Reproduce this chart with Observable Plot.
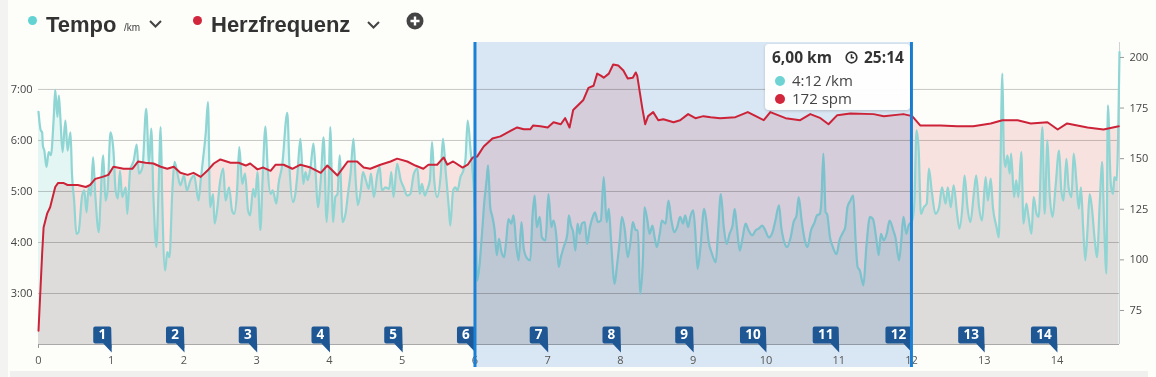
<!DOCTYPE html>
<html>
<head>
<meta charset="utf-8">
<script src="https://cdn.jsdelivr.net/npm/d3@7"></script>
<script src="https://cdn.jsdelivr.net/npm/@observablehq/plot@0.6"></script>
<style>
  html, body { margin:0; padding:0; background:#fdfdfa; }
  #wrap { position:relative; width:1156px; height:377px; overflow:hidden; background:#fdfdfa; }
  .abs { position:absolute; }
  .hdr { font-family:"Liberation Sans", Arial, sans-serif; font-weight:bold; font-size:22px; color:#333; line-height:1; }
  .dot { position:absolute; width:9px; height:9px; border-radius:50%; }
  #tip { position:absolute; left:765px; top:44px; width:145px; height:66px; background:rgba(255,255,255,0.96);
         border-radius:4px; box-shadow:0 1px 3px rgba(0,0,0,0.18); font-family:"Open Sans", sans-serif; color:#333; }
  #tip .b { position:absolute; font-weight:bold; font-size:15.5px; line-height:1; }
  #tip .r { position:absolute; font-size:15px; line-height:1; color:#444; }
  #tip .d { position:absolute; width:10px; height:10px; border-radius:50%; }
</style>
</head>
<body>
<div id="wrap">
  <div class="dot" style="left:28px;top:15.5px;background:#63d2d2;"></div>
  <div class="abs hdr" style="left:46px;top:14px;">Tempo</div>
  <div class="abs" style="left:124px;top:22px;font-family:'Liberation Sans',Arial,sans-serif;font-size:10px;color:#444;">/km</div>
  <svg class="abs" style="left:148px;top:18px;" width="16" height="12"><polyline points="2,3 7.5,8.5 13,3" fill="none" stroke="#444" stroke-width="2"/></svg>
  <div class="dot" style="left:193px;top:15.5px;background:#d1263b;"></div>
  <div class="abs hdr" style="left:211px;top:14px;">Herzfrequenz</div>
  <svg class="abs" style="left:366px;top:19px;" width="16" height="12"><polyline points="2,3 7.5,8.5 13,3" fill="none" stroke="#444" stroke-width="2"/></svg>
  <svg class="abs" style="left:406px;top:12px;" width="18" height="18"><circle cx="9" cy="9" r="8.5" fill="#444"/><path d="M9,4.5V13.5M4.5,9H13.5" stroke="#fff" stroke-width="2.4"/></svg>

  <div id="chart" class="abs" style="left:0;top:40px;"></div>

  <div id="tip">
    <div class="b" style="left:7px;top:6px;">6,00 km</div>
    <svg class="abs" style="left:80px;top:7px;" width="13" height="13"><circle cx="6.5" cy="6.5" r="5.3" fill="none" stroke="#333" stroke-width="1.7"/><path d="M6.5,3.2V6.8H9" fill="none" stroke="#333" stroke-width="1.6"/></svg>
    <div class="b" style="left:99px;top:6px;">25:14</div>
    <div class="d" style="left:10px;top:32px;background:#6fd3d3;"></div>
    <div class="r" style="left:27px;top:29px;">4:12 /km</div>
    <div class="d" style="left:10px;top:50px;background:#d1263b;"></div>
    <div class="r" style="left:27px;top:47px;">172 spm</div>
  </div>

  <div class="abs" style="left:0;top:0;width:8px;height:377px;background:#f3f3f1;"></div>
  <div class="abs" style="left:10px;top:371px;width:1138px;height:6px;background:#f0f0ee;"></div>
</div>
<script>
// ---- data (km, pace in decimal minutes per km) ----
const paceSeries = [[0,6.56],[0.03,6.20],[0.05,6.16],[0.06,5.90],[0.08,5.80],[0.11,5.48],[0.14,5.77],[0.17,5.71],[0.21,6.46],[0.23,6.99],[0.26,6.46],[0.28,6.88],[0.30,6.46],[0.33,5.77],[0.37,6.39],[0.40,5.80],[0.44,6.16],[0.46,5.35],[0.49,4.82],[0.52,4.17],[0.55,4.20],[0.60,4.92],[0.63,5.02],[0.66,4.59],[0.69,5.08],[0.72,4.92],[0.75,5.67],[0.78,4.95],[0.83,4.20],[0.85,4.76],[0.89,5.71],[0.92,4.82],[0.95,5.02],[0.99,6.16],[1.03,5.80],[1.06,5.02],[1.09,4.86],[1.12,5.41],[1.15,4.89],[1.20,5.08],[1.22,4.56],[1.26,5.41],[1.31,5.61],[1.35,5.92],[1.38,5.35],[1.43,5.48],[1.48,6.62],[1.52,5.54],[1.55,6.23],[1.58,4.89],[1.62,3.91],[1.65,5.02],[1.68,6.26],[1.70,4.89],[1.74,3.45],[1.77,3.81],[1.80,3.71],[1.84,5.02],[1.87,5.58],[1.91,5.35],[1.95,5.12],[2.00,5.31],[2.04,5.02],[2.09,5.22],[2.14,5.31],[2.20,4.82],[2.23,5.22],[2.26,5.61],[2.30,6.16],[2.33,6.75],[2.36,4.69],[2.40,4.95],[2.42,4.37],[2.46,4.69],[2.49,5.12],[2.54,5.45],[2.57,4.82],[2.62,5.08],[2.66,4.63],[2.69,4.56],[2.73,5.02],[2.76,5.87],[2.80,5.15],[2.84,5.35],[2.88,4.63],[2.91,4.53],[2.95,5.05],[2.98,4.89],[3.01,5.38],[3.05,4.24],[3.08,5.22],[3.12,6.27],[3.15,5.45],[3.19,4.95],[3.22,5.02],[3.27,4.76],[3.30,5.15],[3.35,5.51],[3.42,6.54],[3.45,5.48],[3.50,4.79],[3.53,4.95],[3.56,5.35],[3.60,6.03],[3.64,5.15],[3.67,5.38],[3.70,5.22],[3.74,5.48],[3.78,5.94],[3.81,5.35],[3.84,4.69],[3.88,5.22],[3.92,6.06],[3.96,4.40],[3.99,5.15],[4.01,6.26],[4.05,4.40],[4.08,4.89],[4.11,4.95],[4.14,5.71],[4.18,4.40],[4.22,4.56],[4.26,5.02],[4.29,5.35],[4.33,6.03],[4.36,5.22],[4.39,4.73],[4.43,5.02],[4.46,5.38],[4.50,5.22],[4.54,5.05],[4.57,5.35],[4.61,4.89],[4.66,5.35],[4.69,5.48],[4.72,5.02],[4.77,5.08],[4.82,5.05],[4.85,5.38],[4.88,4.89],[4.93,5.54],[4.98,5.22],[5.02,5.08],[5.07,4.92],[5.11,4.95],[5.16,5.35],[5.21,5.45],[5.24,4.95],[5.27,5.15],[5.31,4.92],[5.34,5.02],[5.38,5.22],[5.41,5.97],[5.44,5.22],[5.48,4.89],[5.53,5.35],[5.56,6.03],[5.60,5.35],[5.64,4.69],[5.66,4.33],[5.70,5.02],[5.73,5.08],[5.76,5.02],[5.80,5.28],[5.84,5.41],[5.87,5.64],[5.90,6.39],[5.94,5.80],[5.98,5.15],[6.01,4.30],[6.03,3.25],[6.06,3.52],[6.10,4.24],[6.13,4.82],[6.16,5.22],[6.18,5.51],[6.21,4.69],[6.24,4.50],[6.27,4.24],[6.30,3.75],[6.33,4.07],[6.36,3.84],[6.40,3.71],[6.43,4.04],[6.46,4.46],[6.50,4.37],[6.53,4.53],[6.57,3.91],[6.60,3.65],[6.64,4.40],[6.67,3.88],[6.72,3.68],[6.76,3.65],[6.79,4.50],[6.82,4.92],[6.85,4.30],[6.89,4.50],[6.92,4.10],[6.97,4.04],[7.01,4.95],[7.05,4.30],[7.08,4.43],[7.12,4.10],[7.15,3.52],[7.18,3.71],[7.22,3.91],[7.27,4.17],[7.29,4.53],[7.32,4.33],[7.35,4.20],[7.38,3.84],[7.41,4.37],[7.44,4.17],[7.47,4.37],[7.51,4.40],[7.54,3.97],[7.58,4.30],[7.62,4.50],[7.65,4.59],[7.69,4.40],[7.73,4.43],[7.77,5.28],[7.81,4.40],[7.84,4.66],[7.87,4.04],[7.92,3.19],[7.95,3.52],[7.99,4.04],[8.02,4.50],[8.06,4.24],[8.10,3.71],[8.14,4.04],[8.17,4.40],[8.21,4.24],[8.24,4.24],[8.27,2.99],[8.31,3.71],[8.33,4.69],[8.37,4.43],[8.40,4.17],[8.44,4.33],[8.47,4.10],[8.50,3.91],[8.54,4.17],[8.57,4.43],[8.62,4.37],[8.66,4.82],[8.70,4.43],[8.74,4.20],[8.78,4.30],[8.82,4.50],[8.86,4.37],[8.89,4.53],[8.93,4.30],[8.96,4.50],[9.00,4.63],[9.03,4.17],[9.06,3.48],[9.10,3.91],[9.15,4.66],[9.18,4.43],[9.21,4.04],[9.26,3.77],[9.31,3.61],[9.34,4.17],[9.38,4.95],[9.42,4.30],[9.46,3.97],[9.50,4.17],[9.54,4.33],[9.57,4.66],[9.60,4.30],[9.64,3.84],[9.68,4.10],[9.72,4.37],[9.76,4.24],[9.81,4.14],[9.86,4.24],[9.90,4.27],[9.95,4.33],[9.99,4.24],[10.04,4.10],[10.09,4.20],[10.13,4.43],[10.18,4.73],[10.21,4.30],[10.24,4.07],[10.29,3.91],[10.34,4.10],[10.38,4.40],[10.42,4.53],[10.45,4.89],[10.49,4.43],[10.53,4.07],[10.57,3.91],[10.62,4.24],[10.67,4.40],[10.70,4.53],[10.74,4.56],[10.76,4.76],[10.79,5.74],[10.82,4.59],[10.84,4.56],[10.88,4.10],[10.92,3.91],[10.97,3.77],[11.01,4.04],[11.06,4.20],[11.09,4.30],[11.12,4.69],[11.16,4.82],[11.20,4.92],[11.23,4.10],[11.26,3.52],[11.29,3.45],[11.34,3.16],[11.38,3.91],[11.43,4.50],[11.47,4.46],[11.52,4.04],[11.55,3.75],[11.58,4.17],[11.62,4.04],[11.66,4.17],[11.70,4.43],[11.75,4.24],[11.78,4.10],[11.83,3.65],[11.86,4.04],[11.89,4.50],[11.93,4.17],[11.96,4.33],[12.01,4.43],[12.04,4.76],[12.07,6.20],[12.10,5.80],[12.13,4.56],[12.17,4.69],[12.21,4.76],[12.24,5.45],[12.28,4.99],[12.33,4.56],[12.38,4.69],[12.42,5.08],[12.47,4.76],[12.50,5.08],[12.54,4.69],[12.58,5.12],[12.63,4.53],[12.66,4.27],[12.70,4.69],[12.73,5.31],[12.77,4.69],[12.81,4.40],[12.86,4.99],[12.89,5.31],[12.93,4.69],[12.97,4.43],[13.02,5.28],[13.05,4.82],[13.09,5.25],[13.12,4.69],[13.17,4.30],[13.20,4.10],[13.22,5.22],[13.25,7.31],[13.27,5.74],[13.29,5.48],[13.32,5.71],[13.35,5.35],[13.37,5.74],[13.41,4.89],[13.44,5.22],[13.47,4.89],[13.51,5.77],[13.54,4.37],[13.58,4.76],[13.61,4.50],[13.65,4.17],[13.68,4.89],[13.72,4.56],[13.75,4.50],[13.80,6.26],[13.83,4.56],[13.87,6.00],[13.90,4.95],[13.94,4.50],[13.98,5.08],[14.03,5.80],[14.06,5.02],[14.09,4.82],[14.13,5.64],[14.16,5.08],[14.20,4.89],[14.23,5.74],[14.27,5.15],[14.30,4.66],[14.33,5.08],[14.36,4.30],[14.39,3.65],[14.42,4.24],[14.45,4.95],[14.48,4.69],[14.52,4.04],[14.55,3.71],[14.59,4.82],[14.62,5.58],[14.65,4.30],[14.68,3.39],[14.70,6.69],[14.74,5.15],[14.77,4.95],[14.79,5.28],[14.82,5.22],[14.86,7.73]];

// (km, heart rate)
const hrSeries = [[0,65],[0.05,103],[0.07,116],[0.12,123],[0.16,126],[0.23,136],[0.27,138],[0.34,138],[0.40,137],[0.54,137],[0.65,136],[0.71,137],[0.78,140],[0.88,141],[0.96,142],[1.03,146],[1.17,145],[1.29,145],[1.37,148.6],[1.47,148],[1.58,147.6],[1.68,146],[1.77,145],[1.86,146],[1.95,143],[2.05,142],[2.13,143],[2.23,141],[2.32,144],[2.41,147.6],[2.50,149.6],[2.64,148],[2.75,148],[2.85,146.6],[2.91,147.6],[3.01,144.7],[3.09,145.6],[3.19,144],[3.26,147],[3.37,147],[3.49,145],[3.60,147],[3.74,145.6],[3.88,143],[3.97,146.6],[4.11,141.7],[4.25,148.6],[4.38,148.6],[4.47,145.6],[4.56,145],[4.70,147],[4.84,148.6],[4.93,150],[5.07,148.6],[5.18,146.6],[5.29,145],[5.36,147],[5.48,147],[5.57,150.6],[5.62,147],[5.70,148.6],[5.83,145.6],[5.90,147],[5.97,150.6],[6.03,151],[6.12,156],[6.24,160],[6.35,161],[6.45,163],[6.58,165.4],[6.67,164.5],[6.76,164.5],[6.80,166.4],[6.90,166],[7.00,165.4],[7.08,168],[7.18,167],[7.24,170],[7.30,165.4],[7.35,174],[7.49,179],[7.56,185],[7.63,186],[7.68,192],[7.73,191],[7.77,190],[7.84,192],[7.90,196.5],[7.97,196],[8.04,193.6],[8.10,189.6],[8.17,190],[8.21,192.6],[8.23,191],[8.30,175],[8.34,167],[8.38,171],[8.45,173],[8.52,169],[8.59,169.5],[8.73,168],[8.82,169],[8.93,172],[9.03,170],[9.14,171],[9.24,170.5],[9.37,170],[9.58,170.5],[9.75,173],[9.86,171],[9.97,169],[10.06,173],[10.27,170],[10.47,169],[10.61,172],[10.75,170],[10.86,167],[10.98,171.5],[11.16,172.3],[11.48,172],[11.62,171],[11.89,172],[12.01,171],[12.12,166.4],[12.26,166.4],[12.40,166.4],[12.63,166],[12.85,166],[13.09,167.4],[13.25,169],[13.46,169],[13.64,167.4],[13.87,168],[14.01,164.4],[14.14,167.4],[14.42,165.4],[14.64,164.4],[14.85,166]];

const kmTicks = [0,1,2,3,4,5,6,7,8,9,10,11,12,13,14];
const paceTicks = [3,4,5,6,7];
const hrTicks = [75,100,125,150,175,200];
const lapKm = [1,2,3,4,5,6,7,8,9,10,11,12,13,14];
const selection = [{start:6, end:12}];

// heart rate shares the pace axis space: 75 bpm <-> 2:40, 200 bpm <-> 7:37.6
const hrToPace = d3.scaleLinear().domain([75,200]).range([2.667,7.627]);

const paceData = paceSeries.map(([km,pace]) => ({km, pace}));
const hrData = hrSeries.map(([km,hr]) => ({km, hr, p: hrToPace(hr)}));
const lapsOne = lapKm.filter(k => k < 10);
const lapsTwo = lapKm.filter(k => k >= 10);

const fmtPace = m => `${Math.floor(m)}:${String(Math.round((m % 1) * 60)).padStart(2, "0")}`;

const yMin = 2, yMax = 7.92, yBand = 1.549, xMax = 14.86;

function bubble(w) {
  return {
    draw(ctx) {
      const r = 2, top = -18, bot = -1, L = -w, R = 0;
      ctx.moveTo(L + r, top);
      ctx.lineTo(R - r, top);
      ctx.arcTo(R, top, R, top + r, r);
      ctx.lineTo(R + 0.5, 8);
      ctx.lineTo(R - 8, bot);
      ctx.lineTo(L + r, bot);
      ctx.arcTo(L, bot, L, bot - r, r);
      ctx.lineTo(L, top + r);
      ctx.arcTo(L, top, L + r, top, r);
      ctx.closePath();
    }
  };
}

const chart = Plot.plot({
  width: 1156,
  height: 330,
  marginLeft: 38,
  marginRight: 37,
  marginTop: 2,
  marginBottom: 26,
  x: {domain: [0, xMax]},
  y: {domain: [yMin, yMax]},
  style: {background: "transparent", fontFamily: "'Open Sans', sans-serif", fontSize: "11px", color: "#444", overflow: "visible"},
  marks: [
    Plot.areaY(paceData, {x: "km", y1: yMin, y2: "pace", fill: "#e3f6f4", curve: "monotone-x"}),
    Plot.areaY(hrData, {x: "km", y1: yMin, y2: "p", fill: "#fae4e4", mixBlendMode: "multiply"}),
    Plot.ruleY(paceTicks, {stroke: "#c9c9c9", mixBlendMode: "multiply"}),
    Plot.ruleX([xMax], {y1: yMin, y2: yMax, stroke: "#d2d2d2"}),
    Plot.ruleY([yMin], {stroke: "#a9a9a9"}),
    Plot.line(paceData, {x: "km", y: "pace", stroke: "#8fd5d3", strokeWidth: 2.2, curve: "monotone-x"}),
    Plot.rect(selection, {x1: "start", x2: "end", y1: yBand, y2: yMax, fill: "#dbe8f8", mixBlendMode: "multiply"}),
    Plot.line(hrData, {x: "km", y: "p", stroke: "#cc2339", strokeWidth: 2}),
    Plot.axisX(kmTicks, {tickSize: 4, tickPadding: 8, label: null, fill: "#555", stroke: "#999", fontSize: 11}),
    Plot.axisY(paceTicks, {anchor: "left", tickSize: 0, tickPadding: 6, tickFormat: fmtPace, label: null, fill: "#444", fontSize: 11}),
    Plot.axisY(hrTicks.map(hrToPace), {anchor: "right", tickSize: 4, tickPadding: 6, tickFormat: d => Math.round(hrToPace.invert(d)), label: null, fill: "#444", stroke: "#999", fontSize: 11}),
    Plot.dot(lapsOne, {x: d => d, y: yMin, symbol: bubble(18), fill: "#1f5794", stroke: null, r: 5}),
    Plot.dot(lapsTwo, {x: d => d, y: yMin, symbol: bubble(26), fill: "#1f5794", stroke: null, r: 5}),
    Plot.text(lapsOne, {x: d => d, y: yMin, text: d => String(d), dx: -9, dy: -9.5, fill: "white", fontWeight: "bold", fontSize: 13.5}),
    Plot.text(lapsTwo, {x: d => d, y: yMin, text: d => String(d), dx: -13, dy: -9.5, fill: "white", fontWeight: "bold", fontSize: 13.5}),
    Plot.ruleX([selection[0].start, selection[0].end], {y1: yBand, y2: yMax, stroke: "#1a80d5", strokeWidth: 3})
  ]
});
document.getElementById("chart").appendChild(chart);
</script>
</body>
</html>
